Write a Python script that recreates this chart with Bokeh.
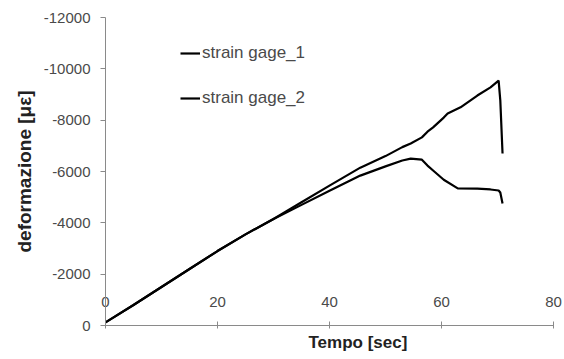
from bokeh.plotting import figure
from bokeh.models import Range1d, FixedTicker, Legend, LegendItem, Title
from bokeh.embed import file_html
from bokeh.resources import INLINE

# ---- data ----
t_gage1 = [0, 5, 10, 15, 20, 25, 30, 35, 40, 45.5, 50, 53, 54.5, 56.5, 57.5, 58.5, 60.4, 61.1, 63.4, 66.4, 68.75, 70.2, 70.5, 70.9]
v_gage1 = [-120, -800, -1500, -2200, -2900, -3550, -4150, -4800, -5450, -6150, -6600, -6950, -7090, -7330, -7550, -7720, -8100, -8260, -8500, -8960, -9280, -9540, -8770, -6700]
t_gage2 = [0, 5, 10, 15, 20, 25, 30, 35, 40, 45.5, 50, 53, 54.5, 56.5, 57.5, 58.5, 60.4, 62.9, 66.4, 68.75, 70.2, 70.5, 70.9]
v_gage2 = [-120, -800, -1500, -2200, -2900, -3550, -4150, -4700, -5250, -5840, -6200, -6430, -6500, -6460, -6230, -6040, -5680, -5340, -5330, -5300, -5260, -5180, -4750]
series_names = ["strain gage_1", "strain gage_2"]

x_ticks = [0, 20, 40, 60, 80]
x_tick_labels = ["0", "20", "40", "60", "80"]
y_ticks = [0, -2000, -4000, -6000, -8000, -10000, -12000]
y_tick_labels = ["0", "-2000", "-4000", "-6000", "-8000", "-10000", "-12000"]
x_title = "Tempo [sec]"
y_title = "deformazione [\u03bc\u03b5]"

FONT = "Liberation Sans"
GREY = "#4a4a4a"

p = figure(width=564, height=359, output_backend="svg", toolbar_location=None,
           x_range=Range1d(0, 80), y_range=Range1d(0, -12000),
           min_border_left=105, min_border_right=11, min_border_top=17, min_border_bottom=34)
p.outline_line_color = None
p.grid.visible = False
p.background_fill_color = "white"
p.border_fill_color = "white"

# y axis
p.yaxis.ticker = FixedTicker(ticks=y_ticks)
p.yaxis.major_label_overrides = {tv: lab for tv, lab in zip(y_ticks, y_tick_labels)}
p.yaxis.minor_tick_line_color = None
p.yaxis.major_tick_out = 5
p.yaxis.major_tick_in = 0
p.yaxis.major_label_standoff = 10
p.yaxis.axis_line_color = "#8a8a8a"
p.yaxis.major_tick_line_color = "#8a8a8a"
p.yaxis.major_label_text_font = FONT
p.yaxis.major_label_text_font_size = "15px"
p.yaxis.major_label_text_color = GREY
p.yaxis.axis_label = y_title
p.yaxis.axis_label_text_font = FONT
p.yaxis.axis_label_text_font_size = "19px"
p.yaxis.axis_label_text_font_style = "bold"
p.yaxis.axis_label_text_color = "#222222"
p.yaxis.axis_label_standoff = 6

# x axis: tick labels sit above the axis line (negative standoff)
p.xaxis.ticker = FixedTicker(ticks=x_ticks)
p.xaxis.major_label_overrides = {tv: lab for tv, lab in zip(x_ticks, x_tick_labels)}
p.xaxis.minor_tick_line_color = None
p.xaxis.major_tick_in = 4
p.xaxis.major_tick_out = 3
p.xaxis.axis_line_color = "#8a8a8a"
p.xaxis.major_tick_line_color = "#8a8a8a"
p.xaxis.major_label_standoff = -32
p.xaxis.major_label_text_font = FONT
p.xaxis.major_label_text_font_size = "15px"
p.xaxis.major_label_text_color = GREY

p.add_layout(Title(text=x_title, align="left", offset=203, text_font=FONT, text_font_size="17px",
                   text_font_style="bold", text_color="#222222", standoff=11), "below")

r1 = p.line(t_gage1, v_gage1, line_color="black", line_width=2.2)
r2 = p.line(t_gage2, v_gage2, line_color="black", line_width=2.2)

legend = Legend(items=[LegendItem(label=series_names[0], renderers=[r1]),
                       LegendItem(label=series_names[1], renderers=[r2])],
                location=(75, 217), orientation="vertical",
                glyph_width=20, glyph_height=20, label_height=20, spacing=25,
                label_standoff=2, padding=0, margin=0,
                border_line_color=None, background_fill_alpha=0,
                label_text_font=FONT, label_text_font_size="17px", label_text_color=GREY)
p.add_layout(legend)

open("out.html", "w").write(file_html(p, INLINE))
